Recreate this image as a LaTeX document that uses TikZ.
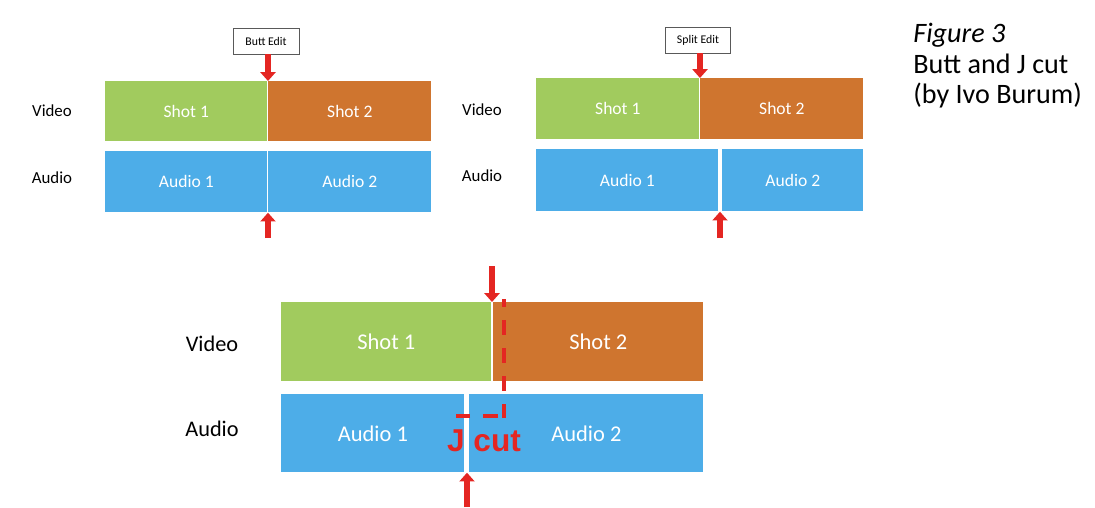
\documentclass[tikz,border=0pt]{standalone}
\usepackage{fontspec}
\setmainfont{Carlito}
\newfontfamily\arialfont{Liberation Sans}
\usetikzlibrary{arrows.meta}

\definecolor{shotgreen}{RGB}{161,203,94}
\definecolor{shotorange}{RGB}{207,117,47}
\definecolor{audioblue}{RGB}{77,173,232}
\definecolor{cutred}{RGB}{228,38,34}

\begin{document}
\begin{tikzpicture}[x=0.2mm, y=-0.2mm,
  track/.style = {anchor=north west, inner sep=0pt, text=white,
    font=\fontsize{10}{12}\selectfont},
  bigtrack/.style = {track, font=\fontsize{12.8}{14}\selectfont},
  rowlabel/.style = {font=\fontsize{9.6}{11}\selectfont},
  bigrowlabel/.style = {font=\fontsize{12.7}{14}\selectfont},
  editbox/.style = {draw=black!65, fill=white, inner sep=0pt,
    minimum width=13.2mm, minimum height=5.2mm,
    font=\fontsize{6.7}{8}\selectfont},
  cutarrow/.style = {draw=cutred, line width=3.6pt,
    -{Triangle[width=8.5pt, length=5pt]}},
  jdash/.style = {draw=cutred, line width=2.8pt,
    dash pattern=on 3mm off 2.6mm}]
  \useasboundingbox (0,0) rectangle (1095,507);

  % butt edit
  \node[rowlabel] (bvid) at (52,111) {Video};
  \node[rowlabel] (baud) at (52,178) {Audio};
  \node[track, fill=shotgreen, minimum width=32.4mm, minimum height=12mm] (bs1) at (105,81) {Shot 1};
  \node[track, fill=shotorange, minimum width=32.6mm, minimum height=12mm] (bs2) at (268,81) {Shot 2};
  \node[track, fill=audioblue, minimum width=32.4mm, minimum height=12.2mm] (ba1) at (105,151) {Audio 1};
  \node[track, fill=audioblue, minimum width=32.6mm, minimum height=12.2mm] (ba2) at (268,151) {Audio 2};
  \node[editbox] (butt) at (266,41) {Butt Edit};
  \coordinate (bup) at (268,238);
  \draw[cutarrow] (bs2.north west |- butt.south) -- (bs2.north west);
  \draw[cutarrow] (bup) -- (ba2.south west);

  % split edit
  \node[rowlabel] (svid) at (482,110) {Video};
  \node[rowlabel] (saud) at (482,176) {Audio};
  \node[track, fill=shotgreen, minimum width=32.6mm, minimum height=12.2mm] (ss1) at (536,78) {Shot 1};
  \node[track, fill=shotorange, minimum width=32.6mm, minimum height=12.2mm] (ss2) at (700,78) {Shot 2};
  \node[track, fill=audioblue, minimum width=36.4mm, minimum height=12.4mm] (sa1) at (536,149) {Audio 1};
  \node[track, fill=audioblue, minimum width=28.2mm, minimum height=12.4mm] (sa2) at (722,149) {Audio 2};
  \node[editbox, minimum width=13mm] (split) at (698,40) {Split Edit};
  \coordinate (sup) at (720,238);
  \draw[cutarrow] (ss2.north west |- split.south) -- (ss2.north west);
  \draw[cutarrow] (sup) -- (sup |- sa1.south);

  % j cut
  \node[bigrowlabel] (jvid) at (212,344) {Video};
  \node[bigrowlabel] (jaud) at (212,429) {Audio};
  \node[bigtrack, fill=shotgreen, minimum width=42mm, minimum height=15.8mm] (js1) at (281,302) {Shot 1};
  \node[bigtrack, fill=shotorange, minimum width=42mm, minimum height=15.8mm] (js2) at (493,302) {Shot 2};
  \node[bigtrack, fill=audioblue, minimum width=36.6mm, minimum height=15.6mm] (ja1) at (281,394) {Audio 1};
  \node[bigtrack, fill=audioblue, minimum width=46.8mm, minimum height=15.6mm] (ja2) at (469,394) {Audio 2};
  \coordinate (jdown) at (492,266);
  \coordinate (jup) at (467,507);
  \draw[cutarrow] (jdown) -- (jdown |- js2.north);
  \draw[cutarrow] (jup) -- (jup |- ja1.south);
  \coordinate (jtop) at (504,299);
  \coordinate (jbend) at (504,418);
  \coordinate (jend) at (456,416);
  \draw[jdash, dash phase=1.4mm] (jtop) -- (jbend);
  \draw[jdash, dash phase=4.4mm] (jbend |- jend) -- (jend);
  \node[text=cutred, font=\arialfont\bfseries\fontsize{18}{20}\selectfont] (jlabel) at (484,441) {J cut};

  % caption
  \node[anchor=north west, align=left, inner sep=0pt,
    font=\fontsize{16}{17.3}\selectfont] (caption) at (913,23)
    {\textit{Figure 3}\\Butt and J cut\\(by Ivo Burum)};
\end{tikzpicture}
\end{document}
